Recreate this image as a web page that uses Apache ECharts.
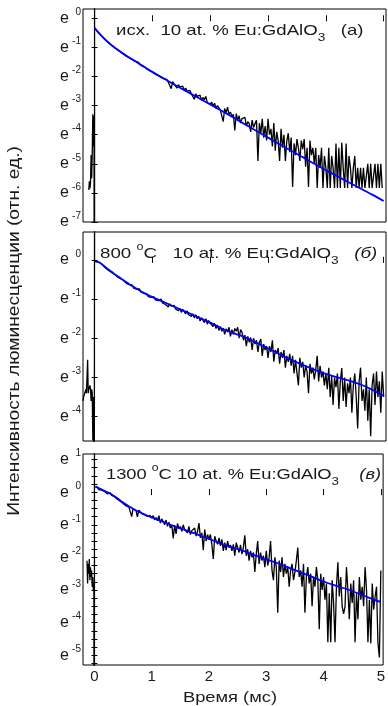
<!DOCTYPE html>
<html><head><meta charset="utf-8">
<script src="https://cdn.jsdelivr.net/npm/echarts@6/dist/echarts.min.js"></script>
<style>html,body{margin:0;padding:0;background:#fff}#c{width:388px;height:706px}</style>
</head><body><div id="c"></div>
<script>
// sampling step of the recorded decay (ms)
const dt = 0.025;
const xTicks = [0, 1, 2, 3, 4, 5];
const p1YTicks = [-7, -6, -5, -4, -3, -2, -1, 0];
const p2YTicks = [-4, -3, -2, -1, 0];
const p3YTicks = [-5, -4, -3, -2, -1, 0, 1];
const p3YMinor = [-5.25,-4.75,-4.5,-4.25,-3.75,-3.5,-3.25,-2.75,-2.5,-2.25,-1.75,-1.5,-1.25,-0.75,-0.5,-0.25,0.25,0.5,0.75];

// panel (a): ln(I) values
const p1PreTime = [-0.1, -0.09, -0.08, -0.07, -0.06, -0.05, -0.04, -0.03, -0.02, -0.01, 0, 0];
const p1PreSignal = [-5.9, -5.6, -5.85, -5.65, -4.7, -5.5, -4.6, -3.3, -4.4, -3.35, -20, 5];
const p1Signal = [
 -0.33,-0.38,-0.46,-0.49,-0.57,-0.6,-0.67,-0.7,
 -0.77,-0.79,-0.86,-0.88,-0.94,-0.96,-1.02,-1.03,
 -1.09,-1.11,-1.16,-1.18,-1.23,-1.24,-1.3,-1.31,
 -1.36,-1.37,-1.42,-1.43,-1.48,-1.49,-1.5,-1.55,
 -1.6,-1.64,-1.65,-1.7,-1.73,-1.74,-1.8,-1.81,
 -1.85,-1.86,-1.92,-1.9,-1.97,-1.96,-2.03,-2.02,
 -2.08,-2.12,-2.1,-2.2,-2.14,-2.42,-2.18,-2.25,
 -2.3,-2.4,-2.28,-2.36,-2.4,-2.33,-2.47,-2.4,
 -2.5,-2.56,-2.48,-2.6,-2.55,-2.78,-2.6,-2.68,
 -2.7,-2.64,-2.82,-2.72,-2.8,-2.68,-2.9,-2.85,
 -2.95,-2.88,-3.02,-2.92,-3.1,-3.0,-3.08,-3.15,
 -3.18,-3.55,-3.1,-3.25,-3.05,-3.3,-3.22,-3.38,
 -3.3,-3.85,-3.28,-3.5,-3.35,-3.6,-3.45,-3.5,
 -3.4,-3.7,-3.55,-3.62,-3.9,-3.5,-3.75,-3.62,
 -3.5,-4.9,-3.6,-3.95,-3.45,-4.1,-3.7,-4.2,
 -3.45,-4.0,-3.8,-4.4,-3.6,-4.55,-3.9,-4.2,
 -4.9,-3.8,-4.45,-4.0,-4.9,-4.2,-3.95,-4.6,
 -4.1,-5.8,-4.3,-4.7,-4.15,-4.45,-4.9,-4.2,
 -4.5,-4.15,-5.1,-4.45,-5.8,-4.2,-4.7,-4.45,
 -5.0,-4.45,-5.83,-4.7,-5.14,-4.45,-5.83,-4.73,
 -5.14,-5.83,-4.45,-5.83,-4.73,-5.14,-5.83,-4.3,
 -5.83,-4.45,-5.83,-4.28,-5.14,-5.83,-4.3,-5.83,
 -4.73,-5.14,-5.83,-5.14,-4.73,-5.83,-5.14,-5.83,
 -5.14,-5.83,-5.14,-5.83,-5.83,-5.0,-5.83,-5.0,
 -5.83,-5.83,-5.0,-5.83,-5.0,-5.83,-5.0,-5.83
];
const p1FitTime = [0,0.05,0.1,0.15,0.2,0.3,0.4,0.5,0.6,0.7,0.8,0.9,1.0,1.2,1.4,1.6,1.8,2.0,2.2,2.4,2.6,2.8,3.0,3.2,3.4,3.6,3.8,4.0,4.2,4.4,4.6,4.8,5.0];
const p1Fit = [-0.33,-0.45,-0.56,-0.66,-0.76,-0.93,-1.08,-1.22,-1.35,-1.47,-1.6,-1.72,-1.84,-2.07,-2.3,-2.52,-2.74,-2.96,-3.18,-3.41,-3.64,-3.87,-4.1,-4.33,-4.55,-4.77,-5.0,-5.22,-5.43,-5.64,-5.85,-6.06,-6.28];

// panel (б)
const p2PreTime = [-0.2,-0.19,-0.18,-0.17,-0.16,-0.15,-0.14,-0.13,-0.12,-0.11,-0.1,-0.09,-0.08,-0.07,-0.06,-0.05,-0.04,-0.03,-0.02,-0.01,0];
const p2PreSignal = [-3.6,-3.5,-3.55,-3.4,-3.45,-3.3,-3.4,-3.35,-2.55,-3.4,-3.3,-3.35,-3.2,-3.3,-3.6,-3.3,-3.4,-4.6,-3.5,-20,3];
const p2Signal = [
 -0.04,-0.04,-0.05,-0.1,-0.08,-0.12,-0.15,-0.18,
 -0.22,-0.2,-0.28,-0.27,-0.33,-0.32,-0.38,-0.36,
 -0.44,-0.41,-0.48,-0.5,-0.52,-0.55,-0.6,-0.56,
 -0.63,-0.66,-0.64,-0.72,-0.7,-0.75,-0.77,-0.74,
 -0.82,-0.8,-0.85,-0.9,-0.86,-0.93,-0.9,-0.96,
 -0.97,-0.94,-1.02,-1.0,-1.04,-1.08,-1.0,-1.1,
 -1.06,-1.14,-1.1,-1.2,-1.12,-1.18,-1.22,-1.16,
 -1.25,-1.2,-1.3,-1.24,-1.34,-1.26,-1.32,-1.38,
 -1.3,-1.4,-1.36,-1.44,-1.38,-1.48,-1.4,-1.5,
 -1.44,-1.56,-1.48,-1.52,-1.6,-1.5,-1.64,-1.55,
 -1.62,-1.58,-1.7,-1.62,-1.75,-1.66,-1.8,-1.7,
 -1.82,-1.74,-1.9,-1.76,-1.84,-1.72,-1.95,-1.78,
 -1.9,-1.75,-1.82,-1.72,-2.0,-1.78,-1.85,-2.05,
 -1.92,-2.2,-1.95,-2.1,-1.98,-2.3,-2.0,-2.15,
 -2.05,-2.35,-2.1,-2.02,-2.45,-2.15,-2.3,-2.2,
 -2.5,-2.2,-2.35,-2.05,-2.6,-2.3,-2.4,-2.25,
 -2.65,-2.35,-2.5,-2.3,-2.75,-2.45,-2.6,-2.4,
 -2.7,-2.45,-2.9,-2.55,-2.6,-3.2,-2.5,-2.75,
 -2.6,-3.0,-2.7,-2.85,-3.4,-2.65,-2.9,-2.75,
 -3.05,-2.8,-2.45,-3.1,-2.7,-3.0,-2.85,-3.2,
 -2.9,-3.3,-2.75,-3.5,-2.95,-3.7,-3.0,-3.25,
 -2.9,-3.8,-3.1,-2.76,-3.6,-3.0,-3.75,-3.15,
 -3.4,-3.0,-3.9,-3.2,-2.9,-3.5,-4.3,-3.1,
 -2.75,-3.6,-3.3,-3.85,-3.0,-4.1,-3.3,-4.5,
 -3.2,-2.9,-3.7,-2.85,-3.5,-3.1,-3.9,-2.85,
 -3.5
];
const p2FitTime = [0.02,0.1,0.2,0.3,0.4,0.5,0.6,0.7,0.8,0.9,1.0,1.2,1.4,1.6,1.8,2.0,2.2,2.4,2.6,2.8,3.0,3.2,3.4,3.6,3.8,4.0,4.2,4.4,4.6,4.8,5.0];
const p2Fit = [-0.04,-0.08,-0.2,-0.31,-0.42,-0.52,-0.62,-0.71,-0.8,-0.88,-0.95,-1.08,-1.21,-1.34,-1.47,-1.6,-1.75,-1.87,-1.97,-2.11,-2.26,-2.41,-2.55,-2.68,-2.8,-2.91,-3.0,-3.08,-3.18,-3.31,-3.47];

// panel (в)
const p3PreTime = [-0.13,-0.12,-0.11,-0.1,-0.09,-0.08,-0.07,-0.06,-0.05,-0.04,-0.03,-0.02,-0.01,0,0];
const p3PreSignal = [-2.1,-2.8,-2.2,-2.5,-2.05,-2.7,-2.3,-2.6,-2.4,-2.9,-2.6,-3.0,-2.8,-20,3];
const p3Signal = [
 0.17,0.17,0.15,0.08,0.1,0.06,0.07,0.02,
 0.03,-0.05,0.0,-0.02,-0.1,-0.06,-0.14,-0.12,
 -0.22,-0.18,-0.28,-0.3,-0.35,-0.32,-0.42,-0.38,
 -0.45,-0.42,-0.75,-0.5,-0.52,-0.56,-0.76,-0.55,
 -0.6,-0.66,-0.62,-0.7,-0.65,-0.74,-0.68,-0.72,
 -0.8,-0.72,-0.85,-0.78,-0.88,-0.72,-0.95,-0.82,
 -0.9,-1.0,-0.86,-1.05,-0.92,-1.1,-1.0,-1.42,
 -1.02,-1.28,-0.96,-1.12,-1.05,-1.2,-1.0,-1.15,
 -1.1,-1.25,-1.05,-1.3,-1.18,-1.22,-1.1,-1.35,
 -1.2,-0.95,-1.4,-1.25,-1.78,-1.15,-1.5,-1.3,
 -1.45,-1.3,-1.6,-2.05,-1.35,-1.5,-1.6,-1.4,
 -1.65,-1.45,-1.8,-1.55,-1.78,-1.5,-1.7,-1.62,
 -1.8,-1.6,-1.95,-1.55,-1.7,-1.85,-1.62,-1.9,
 -1.7,-1.32,-1.95,-1.75,-2.1,-1.8,-2.0,-1.85,
 -2.45,-1.9,-1.5,-2.2,-1.85,-2.1,-1.95,-2.3,
 -1.8,-2.25,-2.0,-1.5,-2.4,-2.7,-2.0,-2.3,
 -3.7,-2.1,-2.45,-2.0,-2.6,-2.2,-2.5,-2.3,
 -2.9,-2.4,-2.2,-2.7,-2.45,-2.1,-1.7,-2.6,
 -2.4,-2.9,-2.2,-3.7,-2.6,-2.3,-2.8,-2.5,
 -3.5,-2.6,-2.9,-2.3,-2.7,-4.2,-2.5,-3.0,
 -2.6,-3.3,-2.8,-4.6,-3.1,-4.6,-2.7,-3.4,
 -4.6,-2.9,-2.15,-3.2,-2.6,-3.5,-3.73,-3.5,
 -2.3,-3.0,-3.9,-2.8,-3.4,-2.7,-4.6,-3.1,
 -3.9,-2.6,-3.3,-2.9,-3.5,-2.3,-3.0,-4.6,
 -3.3,-4.64,-2.8,-3.6,-3.2,-2.9,-4.64,-5.07,
 -2.4
];
const p3FitTime = [0.03,0.1,0.2,0.3,0.4,0.5,0.6,0.7,0.8,0.9,1.0,1.2,1.4,1.6,1.8,2.0,2.2,2.4,2.6,2.8,3.0,3.2,3.4,3.6,3.8,4.0,4.2,4.4,4.6,4.8,5.0];
const p3Fit = [0.17,0.1,0.02,-0.07,-0.19,-0.32,-0.43,-0.54,-0.62,-0.7,-0.77,-0.91,-1.05,-1.17,-1.3,-1.43,-1.57,-1.69,-1.8,-1.94,-2.06,-2.18,-2.32,-2.46,-2.6,-2.74,-2.86,-2.97,-3.1,-3.24,-3.37];

const FONT = '"Liberation Sans", Arial, sans-serif';
const TXT = '#1a1a1a';

function signalPairs(preT, preV, vals) {
  const out = preT.map((t, i) => [t, preV[i]]);
  vals.forEach((v, i) => out.push([+(i * dt).toFixed(3), v]));
  return out;
}
function pairs(ts, vs) { return ts.map((t, i) => [t, vs[i]]); }

const panels = [
  {top: 9, height: 213, min: -7, max: 0.32, ticks: p1YTicks, minor: null,
   sig: signalPairs(p1PreTime, p1PreSignal, p1Signal), fit: pairs(p1FitTime, p1Fit)},
  {top: 232, height: 209, min: -4.62, max: 0.71, ticks: p2YTicks, minor: null,
   sig: signalPairs(p2PreTime, p2PreSignal, p2Signal), fit: pairs(p2FitTime, p2Fit)},
  {top: 454, height: 211, min: -5.3, max: 1.17, ticks: p3YTicks, minor: p3YMinor,
   sig: signalPairs(p3PreTime, p3PreSignal, p3Signal), fit: pairs(p3FitTime, p3Fit)}
];

const grid = [], xAxis = [], yAxis = [], series = [];
panels.forEach((p, i) => {
  grid.push({left: 83, width: 303, top: p.top, height: p.height, show: true,
    borderColor: '#000', borderWidth: 1, backgroundColor: 'transparent'});
  const xBase = {gridIndex: i, type: 'value', min: -0.2, max: 5.04,
    axisLine: {show: false}, splitLine: {show: false},
    axisTick: {inside: true, length: 3, customValues: xTicks, lineStyle: {color: '#000', width: 1}}};
  xAxis.push(Object.assign({}, xBase, {position: 'bottom',
    axisLabel: {show: i === 2, customValues: xTicks, fontSize: 15, fontFamily: FONT, color: TXT, margin: 4}}));
  xAxis.push(Object.assign({}, xBase, {position: 'top', axisLabel: {show: false}}));
  const tickVals = p.minor ? p.ticks.concat(p.minor) : p.ticks;
  const yBase = {gridIndex: i, type: 'value', min: p.min, max: p.max,
    axisLine: {show: false}, splitLine: {show: false},
    axisTick: {inside: true, length: 3, customValues: tickVals, lineStyle: {color: '#000', width: 1}}};
  yAxis.push(Object.assign({}, yBase, {position: 'left',
    axisLabel: {customValues: p.ticks, margin: 2, color: TXT,
      formatter: v => '{e|e}{s|' + v + '}',
      rich: {
        e: {fontSize: 16, fontFamily: FONT, color: TXT, verticalAlign: 'bottom', padding: [0, 0, 3, 0]},
        s: {fontSize: 10, fontFamily: FONT, color: TXT, verticalAlign: 'bottom', padding: [0, 0, 12, 0],
            width: 12, align: 'right'}
      }}}));
  yAxis.push(Object.assign({}, yBase, {position: 'right', axisLabel: {show: false}}));
  series.push({type: 'line', xAxisIndex: i * 2, yAxisIndex: i * 2, data: p.sig,
    showSymbol: false, symbol: 'none', clip: true, lineStyle: {color: '#000', width: 1.3}, z: 2, animation: false});
  series.push({type: 'line', xAxisIndex: i * 2, yAxisIndex: i * 2, data: p.fit, smooth: 0.3,
    showSymbol: false, symbol: 'none', clip: true, lineStyle: {color: '#0000ff', width: 1.8}, z: 3, animation: false});
});

const annRich = {
  m: {fontSize: 15, fontFamily: FONT, fill: TXT, color: TXT, verticalAlign: 'bottom', padding: [0, 0, 5, 0]},
  i: {fontSize: 15, fontFamily: FONT, fill: TXT, color: TXT, fontStyle: 'italic', verticalAlign: 'bottom', padding: [0, 0, 5, 0]},
  sub: {fontSize: 11, fontFamily: FONT, fill: TXT, color: TXT, verticalAlign: 'bottom', padding: [0, 0, 0, 0]},
  sup: {fontSize: 10, fontFamily: FONT, fill: TXT, color: TXT, verticalAlign: 'bottom', padding: [0, 0, 14, 0]}
};
function ann(x, y, text, sx) {
  return {type: 'text', x: x, y: y, scaleX: sx, silent: true,
    style: {text: text, rich: annRich, fill: TXT, font: '15px ' + FONT,
      textVerticalAlign: 'middle', verticalAlign: 'middle', textAlign: 'left', align: 'left'}};
}

const chart = echarts.init(document.getElementById('c'), null, {renderer: 'canvas'});
chart.setOption({
  animation: false,
  backgroundColor: '#fff',
  grid, xAxis, yAxis, series,
  graphic: [
    ann(116, 33, '{m|исх.  10 at. % Eu:GdAlO}{sub|3}{m|   (a)}', 1.24),
    ann(100, 254, '{m|800 }{sup|o}{m|C   10 at. % Eu:GdAlO}{sub|3}{m|   }{i|(б)}', 1.25),
    ann(106, 475, '{m|1300 }{sup|o}{m|C 10 at. % Eu:GdAlO}{sub|3}{m|    }{i|(в)}', 1.22),
    {type: 'text', x: 15, y: 331, rotation: Math.PI / 2, scaleX: 1.2, silent: true,
     style: {text: 'Интенсивность люминесценции (отн. ед.)', font: '16px ' + FONT, fill: TXT,
       textAlign: 'center', align: 'center', textVerticalAlign: 'middle', verticalAlign: 'middle'}},
    {type: 'text', x: 230, y: 698, scaleX: 1.22, silent: true,
     style: {text: 'Время (мс)', font: '15px ' + FONT, fill: TXT,
       textAlign: 'center', align: 'center', textVerticalAlign: 'middle', verticalAlign: 'middle'}}
  ]
});
</script></body></html>
